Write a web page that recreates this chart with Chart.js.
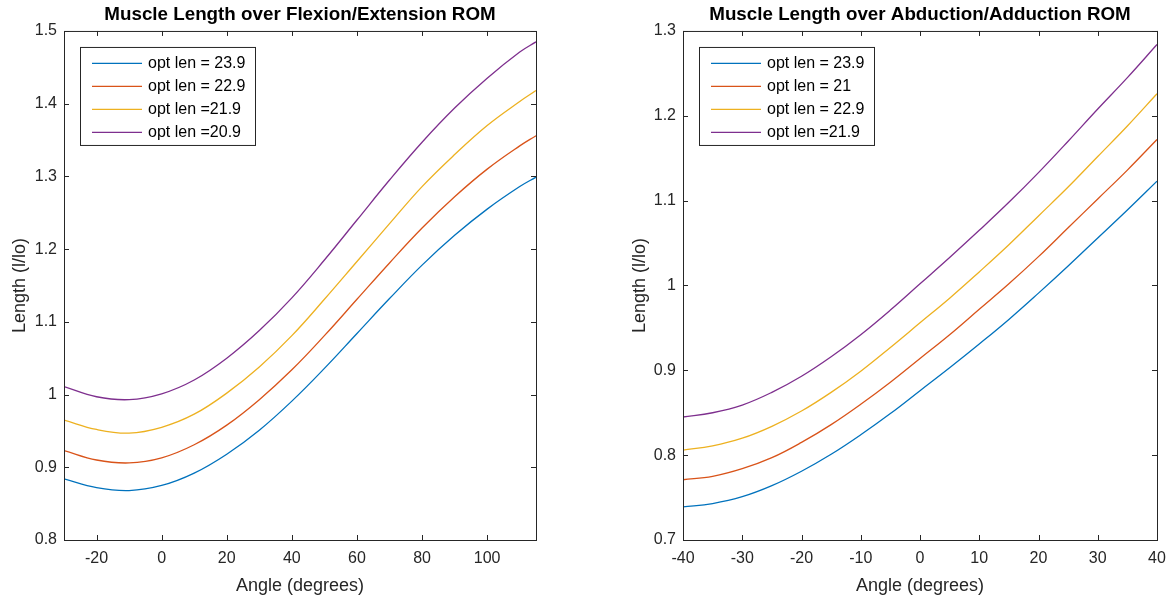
<!DOCTYPE html>
<html>
<head>
<meta charset="utf-8">
<script src="https://cdn.jsdelivr.net/npm/chart.js@4.4.1/dist/chart.umd.min.js"></script>
<style>
  html, body { margin: 0; padding: 0; background: #fff; }
  body { width: 1175px; height: 601px; position: relative; overflow: hidden; }
  .box { position: absolute; top: 0; height: 601px; }
</style>
</head>
<body>
<div class="box" style="left:0; width:600px;"><canvas id="flexao"></canvas></div>
<div class="box" style="left:620px; width:555px;"><canvas id="abducao"></canvas></div>
<script>
// flexion / extension
const flexAngles = [-30, -20, -10, 0, 10, 20, 30, 40, 50, 60, 70, 80, 90, 100, 110, 115];
const flexLen239 = [0.884, 0.872, 0.868, 0.875, 0.892, 0.918, 0.951, 0.991, 1.036, 1.084, 1.132, 1.178, 1.219, 1.255, 1.286, 1.299];
const flexLen229 = [0.923, 0.910, 0.906, 0.913, 0.931, 0.958, 0.993, 1.034, 1.081, 1.131, 1.181, 1.229, 1.272, 1.310, 1.342, 1.356];
const flexLen219 = [0.965, 0.952, 0.947, 0.955, 0.973, 1.002, 1.038, 1.081, 1.131, 1.183, 1.235, 1.286, 1.330, 1.370, 1.403, 1.418];
const flexLen209 = [1.011, 0.997, 0.993, 1.001, 1.020, 1.050, 1.088, 1.133, 1.185, 1.240, 1.295, 1.347, 1.394, 1.435, 1.471, 1.485];
const flexLabels = ['opt len = 23.9', 'opt len = 22.9', 'opt len =21.9', 'opt len =20.9'];
const flexXTicks = [-20, 0, 20, 40, 60, 80, 100];
const flexYTicks = [0.8, 0.9, 1.0, 1.1, 1.2, 1.3, 1.4, 1.5];
const flexYLabels = ['0.8', '0.9', '1', '1.1', '1.2', '1.3', '1.4', '1.5'];

// abduction / adduction
const abdAngles = [-40, -35, -30, -25, -20, -15, -10, -5, 0, 5, 10, 15, 20, 25, 30, 35, 40];
const abdLenA = [0.739, 0.743, 0.751, 0.764, 0.781, 0.801, 0.824, 0.849, 0.876, 0.903, 0.931, 0.960, 0.991, 1.023, 1.056, 1.089, 1.123];
const abdLenB = [0.771, 0.775, 0.784, 0.797, 0.815, 0.836, 0.860, 0.886, 0.914, 0.942, 0.972, 1.002, 1.034, 1.068, 1.102, 1.136, 1.172];
const abdLenC = [0.806, 0.811, 0.820, 0.834, 0.852, 0.874, 0.899, 0.927, 0.956, 0.985, 1.016, 1.048, 1.082, 1.116, 1.152, 1.188, 1.226];
const abdLenD = [0.845, 0.850, 0.859, 0.874, 0.893, 0.916, 0.942, 0.971, 1.002, 1.033, 1.065, 1.098, 1.133, 1.170, 1.208, 1.245, 1.284];
const abdLabels = ['opt len = 23.9', 'opt len = 21', 'opt len = 22.9', 'opt len =21.9'];
const abdXTicks = [-40, -30, -20, -10, 0, 10, 20, 30, 40];
const abdYTicks = [0.7, 0.8, 0.9, 1.0, 1.1, 1.2, 1.3];
const abdYLabels = ['0.7', '0.8', '0.9', '1', '1.1', '1.2', '1.3'];

const cores = ['#0072BD', '#D95319', '#EDB120', '#7E2F8E'];
const corEixo = '#262626';

Chart.defaults.font.family = '"Liberation Sans", Arial, sans-serif';
Chart.defaults.color = corEixo;

// axes box, inward ticks and legend drawn like matlab
const caixaPlugin = {
    id: 'caixa',
    afterDraw(chart) {
        const ctx = chart.ctx;
        const a = chart.chartArea;
        const sx = chart.scales.x;
        const sy = chart.scales.y;
        ctx.save();
        ctx.strokeStyle = corEixo;
        ctx.lineWidth = 1;
        ctx.strokeRect(a.left + 0.5, a.top + 0.5, a.right - a.left, a.bottom - a.top);
        ctx.beginPath();
        sx.ticks.forEach(t => {
            const px = Math.round(sx.getPixelForValue(t.value)) + 0.5;
            ctx.moveTo(px, a.bottom); ctx.lineTo(px, a.bottom - 5);
            ctx.moveTo(px, a.top); ctx.lineTo(px, a.top + 5);
        });
        sy.ticks.forEach(t => {
            const py = Math.round(sy.getPixelForValue(t.value)) + 0.5;
            ctx.moveTo(a.left, py); ctx.lineTo(a.left + 5, py);
            ctx.moveTo(a.right, py); ctx.lineTo(a.right - 5, py);
        });
        ctx.stroke();

        // legend
        const ds = chart.data.datasets;
        ctx.font = '16px "Liberation Sans", Arial, sans-serif';
        let maxW = 0;
        ds.forEach(d => { maxW = Math.max(maxW, ctx.measureText(d.label).width); });
        const lx = a.left + 16;
        const ly = a.top + 16;
        const lw = Math.round(68 + maxW + 10);
        const lh = 98;
        ctx.fillStyle = '#fff';
        ctx.fillRect(lx, ly, lw, lh);
        ctx.strokeRect(lx + 0.5, ly + 0.5, lw, lh);
        ctx.textBaseline = 'middle';
        ctx.textAlign = 'left';
        ds.forEach((d, i) => {
            const y = ly + 16 + i * 23;
            ctx.strokeStyle = d.borderColor;
            ctx.lineWidth = 1.3;
            ctx.beginPath();
            ctx.moveTo(lx + 12, y + 0.5);
            ctx.lineTo(lx + 62, y + 0.5);
            ctx.stroke();
            ctx.fillStyle = '#000';
            ctx.fillText(d.label, lx + 68, y + 1);
        });
        ctx.restore();
    }
};

function montarGrafico(id, cfg) {
    const ctx = document.getElementById(id).getContext('2d');
    new Chart(ctx, {
        type: 'line',
        data: {
            datasets: cfg.series.map((s, i) => ({
                label: cfg.labels[i],
                data: cfg.angles.map((a, j) => ({ x: a, y: s[j] })),
                borderColor: cores[i],
                borderWidth: 1.3,
                pointRadius: 0,
                fill: false,
                tension: 0.4
            }))
        },
        options: {
            responsive: true,
            maintainAspectRatio: false,
            animation: false,
            layout: { padding: { left: 0, right: cfg.padRight, top: 0, bottom: 0 } },
            plugins: {
                legend: { display: false },
                tooltip: { enabled: false },
                title: {
                    display: true,
                    text: cfg.title,
                    fullSize: false,
                    color: '#000',
                    font: { size: 18.8, weight: 'bold' },
                    padding: { top: 3.6, bottom: 4.8 }
                }
            },
            scales: {
                x: {
                    type: 'linear',
                    min: cfg.xMin,
                    max: cfg.xMax,
                    grid: { display: false, drawTicks: false },
                    border: { display: false },
                    afterBuildTicks: scale => { scale.ticks = cfg.xTicks.map(v => ({ value: v })); },
                    afterFit: scale => { scale.height = 61; },
                    ticks: {
                        padding: 9,
                        autoSkip: false,
                        maxRotation: 0,
                        font: { size: 16 },
                        callback: v => String(v)
                    },
                    title: {
                        display: true,
                        text: 'Angle (degrees)',
                        font: { size: 18 },
                        padding: { top: 0, bottom: 4 }
                    }
                },
                y: {
                    type: 'linear',
                    min: cfg.yMin,
                    max: cfg.yMax,
                    grid: { display: false, drawTicks: false },
                    border: { display: false },
                    afterBuildTicks: scale => { scale.ticks = cfg.yTicks.map(v => ({ value: v })); },
                    afterFit: scale => { scale.width = cfg.yWidth; },
                    ticks: {
                        padding: 7,
                        autoSkip: false,
                        font: { size: 16 },
                        callback: (v, i) => cfg.yLabels[i]
                    },
                    title: {
                        display: true,
                        text: 'Length (l/lo)',
                        font: { size: 18 },
                        padding: { top: 9, bottom: 0 }
                    }
                }
            }
        },
        plugins: [caixaPlugin]
    });
}

montarGrafico('flexao', {
    title: 'Muscle Length over Flexion/Extension ROM',
    angles: flexAngles,
    series: [flexLen239, flexLen229, flexLen219, flexLen209],
    labels: flexLabels,
    xMin: -30, xMax: 115, xTicks: flexXTicks,
    yMin: 0.8, yMax: 1.5, yTicks: flexYTicks, yLabels: flexYLabels,
    yWidth: 64, padRight: 64
});

montarGrafico('abducao', {
    title: 'Muscle Length over Abduction/Adduction ROM',
    angles: abdAngles,
    series: [abdLenA, abdLenB, abdLenC, abdLenD],
    labels: abdLabels,
    xMin: -40, xMax: 40, xTicks: abdXTicks,
    yMin: 0.7, yMax: 1.3, yTicks: abdYTicks, yLabels: abdYLabels,
    yWidth: 63, padRight: 18
});
</script>
</body>
</html>
